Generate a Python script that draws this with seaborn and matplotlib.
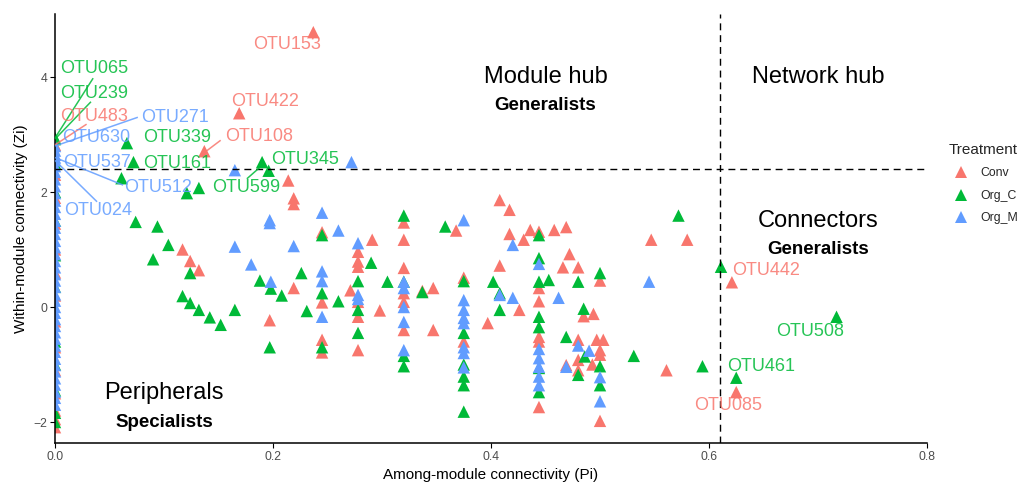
import matplotlib
matplotlib.use("Agg")
import matplotlib.pyplot as plt
from matplotlib.lines import Line2D
import seaborn as sns
import pandas as pd

# ---------------- data ----------------
treatments = ["Conv", "Org_C", "Org_M"]
colors = ["#F8766D", "#00BA38", "#619CFF"]

conv_pi = [0.237, 0.169, 0.137, 0.214, 0.219, 0.219, 0.245, 0.117, 0.124, 0.132,
           0.219, 0.245, 0.197, 0.245, 0.245, 0.271, 0.278, 0.278, 0.278, 0.278,
           0.278, 0.278, 0.291, 0.298, 0.32, 0.32, 0.32, 0.32, 0.32, 0.32,
           0.337, 0.347, 0.347, 0.368, 0.375, 0.375, 0.397, 0.408, 0.417, 0.417,
           0.43, 0.436, 0.408, 0.426, 0.444, 0.444, 0.444, 0.444, 0.444, 0.444,
           0.458, 0.469, 0.472, 0.466, 0.48, 0.494, 0.485, 0.48, 0.48, 0.48,
           0.469, 0.493, 0.5, 0.497, 0.503, 0.5, 0.5, 0.5, 0.547, 0.58,
           0.561, 0.621, 0.625]
conv_zi = [4.78, 3.37, 2.71, 2.20, 1.89, 1.79, 1.30, 1.00, 0.80, 0.64,
           0.33, 0.08, -0.23, -0.57, -0.79, 0.29, 0.96, 0.79, 0.70, 0.09,
           -0.17, -0.75, 1.17, -0.06, 1.47, 1.17, 0.68, 0.24, 0.09, -0.40,
           0.28, 0.33, -0.40, 1.33, 0.51, -0.60, -0.28, 1.86, 1.69, 1.27,
           1.17, 1.34, 0.72, -0.05, 1.31, 0.33, 0.10, -0.52, -0.60, -1.74,
           1.34, 1.39, 0.92, 0.69, 0.69, -0.12, -0.16, -0.57, -0.92, -1.10,
           -1.01, -1.00, 0.46, -0.57, -0.57, -0.75, -0.83, -1.98, 1.17, 1.17,
           -1.10, 0.43, -1.48]

orgc_pi = [0.066, 0.072, 0.061, 0.19, 0.196, 0.132, 0.121, 0.074, 0.094, 0.245,
           0.104, 0.09, 0.124, 0.188, 0.198, 0.226, 0.208, 0.117, 0.124, 0.132,
           0.142, 0.152, 0.165, 0.231, 0.197, 0.245, 0.245, 0.26, 0.29, 0.278,
           0.305, 0.278, 0.278, 0.32, 0.32, 0.32, 0.32, 0.337, 0.358, 0.375,
           0.375, 0.375, 0.375, 0.375, 0.375, 0.402, 0.408, 0.408, 0.444, 0.444,
           0.444, 0.444, 0.444, 0.444, 0.444, 0.453, 0.48, 0.485, 0.469, 0.486,
           0.48, 0.5, 0.5, 0.5, 0.531, 0.572, 0.594, 0.611, 0.717, 0.625]
orgc_zi = [2.85, 2.52, 2.24, 2.52, 2.37, 2.07, 1.98, 1.48, 1.40, 1.25,
           1.08, 0.83, 0.59, 0.46, 0.32, 0.59, 0.20, 0.19, 0.07, -0.05,
           -0.18, -0.31, -0.05, -0.07, -0.70, 0.24, -0.70, 0.10, 0.77, 0.45,
           0.44, -0.05, -0.45, 1.59, 0.44, -0.85, -1.03, 0.26, 1.40, 0.45,
           -0.45, -1.00, -1.21, -1.36, -1.82, 0.44, -0.05, 0.24, 1.25, 0.85,
           0.44, -0.17, -0.35, -1.06, -1.48, 0.47, 0.44, -0.03, -0.52, -0.86,
           -1.18, 0.59, -1.03, -1.36, -0.85, 1.59, -1.03, 0.70, -0.17, -1.23]

orgm_pi = [0.165, 0.272, 0.245, 0.197, 0.197, 0.26, 0.165, 0.219, 0.278, 0.18,
           0.198, 0.245, 0.245, 0.245, 0.278, 0.278, 0.32, 0.32, 0.32, 0.32,
           0.32, 0.375, 0.375, 0.375, 0.375, 0.375, 0.375, 0.375, 0.375, 0.408,
           0.42, 0.42, 0.444, 0.444, 0.444, 0.444, 0.444, 0.444, 0.462, 0.48,
           0.49, 0.469, 0.5, 0.5, 0.545]
orgm_zi = [2.38, 2.52, 1.64, 1.51, 1.46, 1.33, 1.05, 1.06, 1.11, 0.74,
           0.44, 0.62, 0.45, -0.17, 0.21, 0.14, 0.44, 0.33, 0.00, -0.26,
           -0.75, 1.51, 0.12, -0.05, -0.19, -0.28, -0.70, -0.80, -1.05, 0.21,
           0.16, 1.08, 0.75, -0.73, -0.89, -1.04, -1.21, -1.36, 0.16, -0.67,
           -0.76, -1.04, -1.22, -1.64, 0.44]

# peripheral nodes with Pi = 0
conv_zero_zi = [2.82, 2.30, 1.90, 1.45, 1.00, 0.60, 0.20, -0.25, -0.70, -1.10,
                -1.50, -1.80, -1.95, -2.09]
orgc_zero_zi = [2.94, 2.92, 2.50, 2.00, 1.50, 0.90, 0.35, -0.60, -1.00, -1.45,
                -1.84, -2.00]
orgm_zero_zi = [2.80, 2.72, 2.65, 2.60, 2.55, 2.45, 2.35, 2.22, 2.10, 1.98,
                1.85, 1.74, 1.62, 1.50, 1.38, 1.27, 1.15, 1.04, 0.92, 0.80,
                0.69, 0.57, 0.46, 0.35, 0.22, 0.11, 0.00, -0.10, -0.21, -0.33,
                -0.44, -0.55, -0.67, -0.78, -0.90, -1.01, -1.12, -1.24, -1.35,
                -1.47, -1.58, -1.70]

# labelled OTUs: text, treatment, label position, optional connector segment
lab_text = ["OTU153", "OTU422", "OTU108", "OTU345", "OTU599", "OTU065", "OTU239",
            "OTU483", "OTU271", "OTU630", "OTU339", "OTU537", "OTU161", "OTU512",
            "OTU024", "OTU442", "OTU508", "OTU461", "OTU085"]
lab_treat = ["Conv", "Conv", "Conv", "Org_C", "Org_C", "Org_C", "Org_C",
             "Conv", "Org_M", "Org_M", "Org_C", "Org_M", "Org_C", "Org_M",
             "Org_M", "Conv", "Org_C", "Org_C", "Conv"]
lab_x = [0.213, 0.193, 0.187, 0.229, 0.175, 0.036, 0.036, 0.036, 0.110, 0.038,
         0.112, 0.0386, 0.112, 0.095, 0.040, 0.652, 0.693, 0.648, 0.618]
lab_y = [4.56, 3.58, 2.97, 2.56, 2.07, 4.14, 3.72, 3.32, 3.30, 2.94,
         2.94, 2.52, 2.49, 2.07, 1.67, 0.63, -0.42, -1.04, -1.72]
seg_x0 = [None, None, 0.152, None, 0.176, 0.035, 0.033, 0.029, 0.076, None,
          None, None, None, 0.0625, 0.0386, None, None, None, None]
seg_y0 = [None, None, 2.90, None, 2.23, 3.98, 3.57, 3.18, 3.30, None,
          None, None, None, 2.12, 1.83, None, None, None, None]
seg_x1 = [None, None, 0.138, None, 0.188, 0.0, 0.0, 0.0, 0.0, None,
          None, None, None, 0.0, 0.0, None, None, None, None]
seg_y1 = [None, None, 2.70, None, 2.43, 2.94, 2.92, 2.82, 2.80, None,
          None, None, None, 2.60, 2.55, None, None, None, None]

# quadrant annotations
zone_text = ["Module hub", "Network hub", "Connectors", "Peripherals"]
zone_x = [0.45, 0.70, 0.70, 0.10]
zone_y = [4.0, 4.0, 1.5, -1.5]
sub_text = ["Generalists", "Generalists", "Specialists"]
sub_x = [0.45, 0.70, 0.10]
sub_y = [3.5, 1.0, -2.0]

zi_cut = 2.4
pi_cut = 0.61

# ---------------- build table ----------------
rows = []
for t, px, zy, zz in [("Conv", conv_pi, conv_zi, conv_zero_zi),
                      ("Org_C", orgc_pi, orgc_zi, orgc_zero_zi),
                      ("Org_M", orgm_pi, orgm_zi, orgm_zero_zi)]:
    for a, b in zip(px, zy):
        rows.append((t, a, b))
    for b in zz:
        rows.append((t, 0.0, b))
df = pd.DataFrame(rows, columns=["Treatment", "Pi", "Zi"])

# ---------------- plot ----------------
sns.set_theme(style="ticks")
plt.rcParams['font.family'] = ['Liberation Sans', 'DejaVu Sans']

fig = plt.figure(figsize=(10.35, 4.82), dpi=100)
ax = fig.add_axes([55 / 1035, 39 / 482, 872 / 1035, 429 / 482])

pal = dict(zip(treatments, colors))
sns.scatterplot(data=df, x="Pi", y="Zi", hue="Treatment", hue_order=treatments,
                palette=pal, marker="^", s=80, linewidth=0, ax=ax, legend=False,
                zorder=2)

ax.axhline(zi_cut, color="black", lw=1.0, ls=(0, (5, 3.5)), zorder=3)
ax.axvline(pi_cut, color="black", lw=1.0, ls=(0, (5, 3.5)), zorder=3)

for t, tr, lx, ly, x0, y0, x1, y1 in zip(lab_text, lab_treat, lab_x, lab_y,
                                         seg_x0, seg_y0, seg_x1, seg_y1):
    c = pal[tr]
    if x0 is not None:
        ax.plot([x0, x1], [y0, y1], color=c, lw=1.1, alpha=0.85, zorder=4,
                clip_on=False, solid_capstyle="butt")
    ax.text(lx, ly, t, color=c, alpha=0.85, fontsize=13, ha="center", va="center",
            zorder=5)

for t, x, y in zip(zone_text, zone_x, zone_y):
    ax.text(x, y, t, fontsize=17, ha="center", va="center", color="black", zorder=5)
for t, x, y in zip(sub_text, sub_x, sub_y):
    ax.text(x, y, t, fontsize=13.5, fontweight="bold", ha="center", va="center",
            color="black", zorder=5)

ax.set_xlim(0, 0.8)
ax.set_ylim(-2.365, 5.096)
ax.set_xticks([0, 0.2, 0.4, 0.6, 0.8])
ax.set_xticklabels(["0.0", "0.2", "0.4", "0.6", "0.8"])
ax.set_yticks([-2, 0, 2, 4])
ax.set_yticklabels(["\u22122", "0", "2", "4"])
ax.tick_params(direction="out", length=3.5, width=0.8, color="black",
               labelcolor="#4D4D4D", labelsize=8.8, pad=2)
for s in ["top", "right"]:
    ax.spines[s].set_visible(False)
for s in ["left", "bottom"]:
    ax.spines[s].set_color("black")
    ax.spines[s].set_linewidth(1.1)
ax.set_xlabel("Among-module connectivity (Pi)", fontsize=11, color="black", labelpad=4)
ax.set_ylabel("Within-module connectivity (Zi)", fontsize=11, color="black", labelpad=4)

handles = [Line2D([], [], marker="^", ls="", color=c, markersize=9, markeredgewidth=0)
           for c in colors]
fig.legend(handles, treatments, title="Treatment", loc="upper left",
           bbox_to_anchor=(938 / 1035, 1 - 132 / 482), frameon=False,
           fontsize=8.8, title_fontsize=11, handletextpad=0.6, labelspacing=0.85,
           alignment="left")

fig.savefig("out.png", dpi=100)
